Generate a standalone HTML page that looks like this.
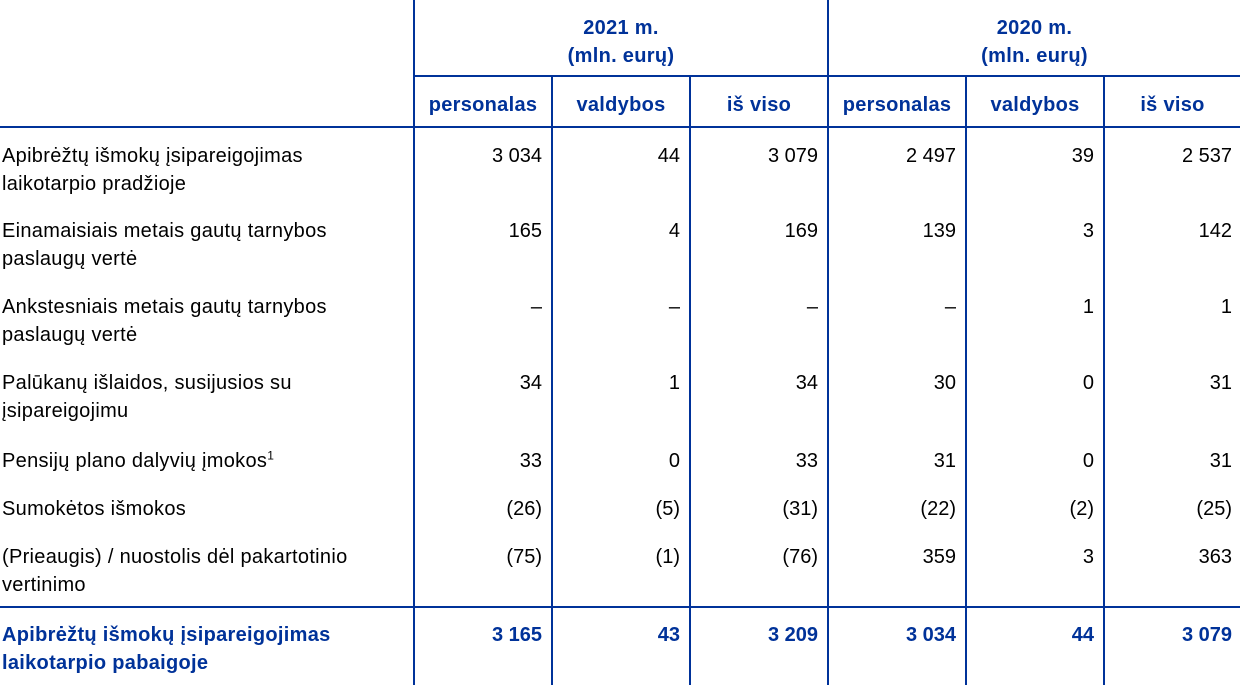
<!DOCTYPE html>
<html><head><meta charset="utf-8"><style>
body{margin:0;width:1240px;height:692px;background:#fff;position:relative;font-family:"Liberation Sans",Arial,sans-serif;font-size:20px;letter-spacing:0.3px;color:#000;overflow:hidden}
.l{position:absolute;background:#003299}
.t{position:absolute;line-height:28px;white-space:nowrap}
.h{color:#003299;font-weight:bold;text-align:center}
.n{text-align:right;letter-spacing:0}
.b{color:#003299;font-weight:bold}
sup{font-size:12px;line-height:0}
</style></head><body>
<div class="l" style="left:413px;top:0;width:2px;height:685px"></div>
<div class="l" style="left:551px;top:76px;width:2px;height:609px"></div>
<div class="l" style="left:689px;top:76px;width:2px;height:609px"></div>
<div class="l" style="left:827px;top:0;width:2px;height:685px"></div>
<div class="l" style="left:965px;top:76px;width:2px;height:609px"></div>
<div class="l" style="left:1103px;top:76px;width:2px;height:609px"></div>
<div class="l" style="left:413px;top:75px;width:827px;height:2px"></div>
<div class="l" style="left:0;top:126px;width:1240px;height:2px"></div>
<div class="l" style="left:0;top:606px;width:1240px;height:2px"></div>

<div class="t h" style="left:415px;width:412px;top:14px">2021 m.<br>(mln. eurų)</div>
<div class="t h" style="left:829px;width:411px;top:14px">2020 m.<br>(mln. eurų)</div>
<div class="t h" style="left:415px;width:136px;top:91px">personalas</div>
<div class="t h" style="left:553px;width:136px;top:91px">valdybos</div>
<div class="t h" style="left:691px;width:136px;top:91px">iš viso</div>
<div class="t h" style="left:829px;width:136px;top:91px">personalas</div>
<div class="t h" style="left:967px;width:136px;top:91px">valdybos</div>
<div class="t h" style="left:1105px;width:135px;top:91px">iš viso</div>

<div id="rows"></div>
<script>
const R=[
[142,"Apibrėžtų išmokų įsipareigojimas<br>laikotarpio pradžioje",["3 034","44","3 079","2 497","39","2 537"]],
[217,"Einamaisiais metais gautų tarnybos<br>paslaugų vertė",["165","4","169","139","3","142"]],
[293,"Ankstesniais metais gautų tarnybos<br>paslaugų vertė",["–","–","–","–","1","1"]],
[369,"Palūkanų išlaidos, susijusios su<br>įsipareigojimu",["34","1","34","30","0","31"]],
[447,"Pensijų plano dalyvių įmokos<sup>1</sup>",["33","0","33","31","0","31"]],
[495,"Sumokėtos išmokos",["(26)","(5)","(31)","(22)","(2)","(25)"]],
[543,"(Prieaugis) / nuostolis dėl pakartotinio<br>vertinimo",["(75)","(1)","(76)","359","3","363"]],
[621,"Apibrėžtų išmokų įsipareigojimas<br>laikotarpio pabaigoje",["3 165","43","3 209","3 034","44","3 079"],1]];
const rights=[542,680,818,956,1094,1232];
let h="";
for(const [y,lab,v,b] of R){
 h+=`<div class="t${b?' b':''}" style="left:2px;top:${y}px">${lab}</div>`;
 v.forEach((s,i)=>{h+=`<div class="t n${b?' b':''}" style="left:${rights[i]-120}px;width:120px;top:${y}px">${s}</div>`});
}
document.getElementById("rows").innerHTML=h;
</script>
</body></html>
